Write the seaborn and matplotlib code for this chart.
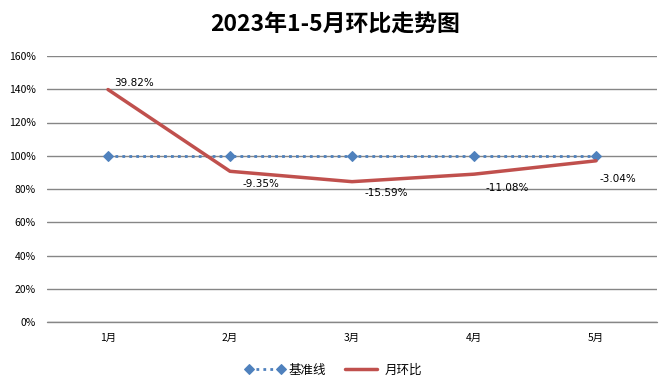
import pandas as pd
import matplotlib.pyplot as plt
import seaborn as sns
from matplotlib.ticker import PercentFormatter

# Chart data
months = ['1月', '2月', '3月', '4月', '5月']
baseline = [100, 100, 100, 100, 100]
mom_index = [139.82, 90.65, 84.41, 88.92, 96.96]
mom_labels = ['39.82%', '-9.35%', '-15.59%', '-11.08%', '-3.04%']

sns.set_theme(style="white")
plt.rcParams['font.family'] = ['Noto Sans CJK SC', 'DejaVu Sans']
plt.rcParams['text.color'] = 'black'

df = pd.DataFrame({'月份': months, '基准线': baseline, '月环比': mom_index})

fig = plt.figure(figsize=(6.7, 3.87), dpi=100)
ax = fig.add_axes([47 / 670, 65 / 387, 610 / 670, 266 / 387])

# Baseline - dotted blue with diamond markers
sns.lineplot(data=df, x='月份', y='基准线', ax=ax, color='#4F81BD', linestyle=(0, (1, 1.5)),
             linewidth=2, marker='D', markersize=5, markeredgecolor='#4F81BD',
             label='基准线', sort=False, zorder=3)
# Month-on-month line
sns.lineplot(data=df, x='月份', y='月环比', ax=ax, color='#C0504D', linewidth=2.5,
             label='月环比', sort=False, zorder=4)

# Data labels (offsets in points)
offsets = [(19, 5), (22, -9.5), (24.5, -8), (24, -10), (16, -13)]
for i, (val, txt) in enumerate(zip(mom_index, mom_labels)):
    ax.annotate(txt, (i, val), xytext=offsets[i], textcoords='offset points',
                ha='center', va='center', fontsize=7.5, color='black',
                family=['DejaVu Sans'])

ax.set_xlim(-0.5, 4.5)
ax.set_ylim(0, 160)
ax.set_yticks(range(0, 161, 20))
ax.yaxis.set_major_formatter(PercentFormatter(decimals=0))
ax.grid(axis='y', color='#868686', linewidth=1)
ax.axhline(0, color='#868686', linewidth=1, clip_on=False, zorder=1)
ax.set_axisbelow(True)
for s in ax.spines.values():
    s.set_visible(False)
ax.tick_params(axis='both', length=0, labelsize=7.5, colors='black')
ax.tick_params(axis='y', pad=8)
ax.tick_params(axis='x', pad=8)
ax.set_xlabel('')
ax.set_ylabel('')

fig.suptitle('2023年1-5月环比走势图', x=0.5, y=0.965, fontsize=16.5, fontweight='bold',
             color='black')

ax.legend(loc='upper center', bbox_to_anchor=(0.47, -0.115), ncol=2, frameon=False,
          fontsize=9, handlelength=3.2, columnspacing=1.2, handletextpad=0.3,
          labelcolor='black', numpoints=2)

fig.savefig('out.png', dpi=100)
